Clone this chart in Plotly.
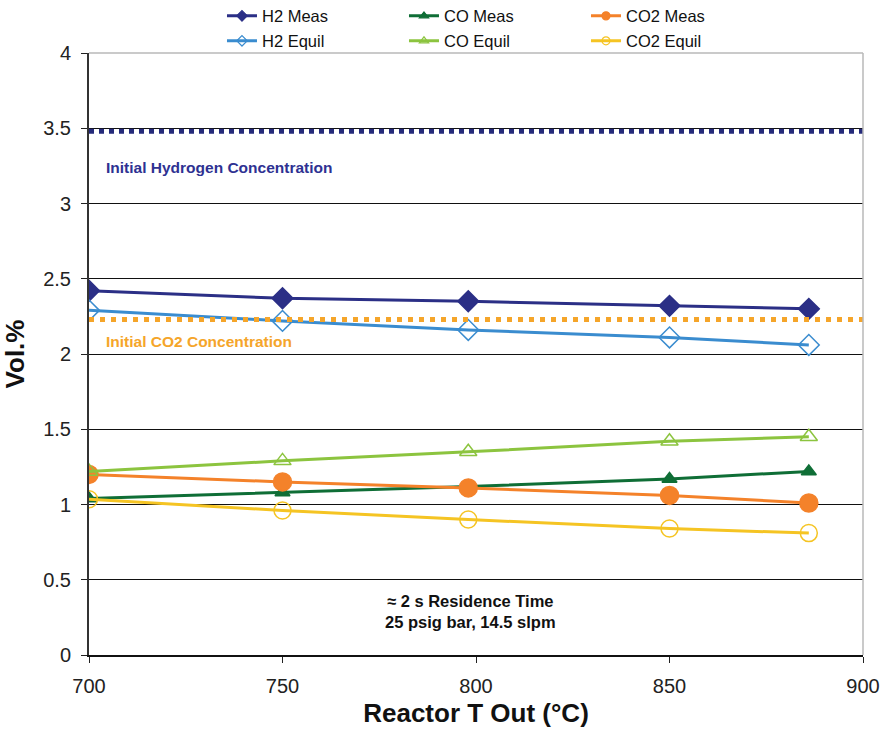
import plotly.graph_objects as go

# ---- data ----
temps = [700, 750, 798, 850, 886]
h2_meas = [2.42, 2.37, 2.35, 2.32, 2.30]
h2_equil = [2.29, 2.22, 2.16, 2.11, 2.06]
co_meas = [1.04, 1.08, 1.12, 1.17, 1.22]
co_equil = [1.22, 1.29, 1.35, 1.42, 1.45]
co2_meas = [1.20, 1.15, 1.11, 1.06, 1.01]
co2_equil = [1.035, 0.96, 0.90, 0.84, 0.81]
initial_h2 = 3.48
initial_co2 = 2.23
x_ticks = [700, 750, 800, 850, 900]
y_ticks = [0, 0.5, 1, 1.5, 2, 2.5, 3, 3.5, 4]

FONT = "Liberation Sans, Arial, sans-serif"

fig = go.Figure()

series = [
    ("H2 Meas", h2_meas, "#2b2f86", "diamond", 16, "legend"),
    ("CO Meas", co_meas, "#0f6e36", "triangle-up", 13, "legend"),
    ("CO2 Meas", co2_meas, "#f4822a", "circle", 18, "legend"),
    ("H2 Equil", h2_equil, "#3a8ccf", "diamond-open", 16, "legend2"),
    ("CO Equil", co_equil, "#8cc43f", "triangle-up-open", 15, "legend2"),
    ("CO2 Equil", co2_equil, "#f5c423", "circle-open", 17, "legend2"),
]
for name, vals, color, sym, size, lg in series:
    fig.add_trace(go.Scatter(
        x=temps, y=vals, name=name, mode="lines+markers",
        line=dict(color=color, width=3),
        marker=dict(symbol=sym, size=size, color=color,
                    line=dict(color=color, width=1.5)),
        showlegend=False,
    ))
    # legend entry with small marker like the original
    fig.add_trace(go.Scatter(
        x=[None], y=[None], name=name, mode="lines+markers",
        line=dict(color=color, width=3),
        marker=dict(symbol=sym, size=8, color=color, line=dict(color=color, width=1.2)),
        legend=lg, showlegend=True, hoverinfo="skip",
    ))

# initial concentration dotted lines
fig.add_hline(y=initial_h2, line=dict(color="#252a7a", width=5, dash="5px,5px"))
fig.add_hline(y=initial_co2, line=dict(color="#f5a52a", width=5, dash="5px,6px"))

# top & right light border
fig.add_shape(type="line", xref="paper", yref="paper", x0=0, x1=1, y0=1, y1=1,
              line=dict(color="#b8b8b8", width=1.5))
fig.add_shape(type="line", xref="paper", yref="paper", x0=1, x1=1, y0=0, y1=1,
              line=dict(color="#b8b8b8", width=1.5))

fig.add_annotation(x=0.02, xref="paper", y=3.236, yref="y", text="Initial Hydrogen Concentration",
                   showarrow=False, xanchor="left", font=dict(family=FONT, size=15.5, color="#2e3192", weight="bold"))
fig.add_annotation(x=0.02, xref="paper", y=2.08, yref="y", text="Initial CO2 Concentration",
                   showarrow=False, xanchor="left", font=dict(family=FONT, size=15.5, color="#f5a52a", weight="bold"))
fig.add_annotation(x=798.7, y=0.292, text="\u2248 2 s Residence Time<br>25 psig bar, 14.5 slpm",
                   showarrow=False, align="center", font=dict(family=FONT, size=16.5, color="#111", weight="bold"))

leg_common = dict(orientation="h", xref="container", yref="container", xanchor="left", yanchor="middle",
                  entrywidth=137, entrywidthmode="pixels",
                  font=dict(family=FONT, size=16.5, color="#111"), bgcolor="rgba(0,0,0,0)")

fig.update_layout(
    width=883, height=734,
    margin=dict(l=89, r=20, t=53, b=79, autoexpand=False),
    paper_bgcolor="white", plot_bgcolor="white",
    font=dict(family=FONT, color="#222"),
    legend=dict(x=0.2514, y=0.978, **leg_common),
    legend2=dict(x=0.2514, y=0.944, **leg_common),
    xaxis=dict(range=[700, 900], tickvals=x_ticks, ticks="outside", ticklen=6, tickcolor="#222",
               showgrid=False, showline=True, linecolor="#111", linewidth=2,
               tickfont=dict(size=20, color="#222"), ticklabelstandoff=6,
               title=dict(text="Reactor T Out (°C)", font=dict(size=26, weight="bold", color="#111"), standoff=8),
               zeroline=False, automargin=False),
    yaxis=dict(range=[0, 4], tickvals=y_ticks, ticks="outside", ticklen=6, tickcolor="#222",
               showgrid=True, gridcolor="#111", gridwidth=1.3,
               showline=True, linecolor="#333", linewidth=2,
               tickfont=dict(size=20, color="#222"), ticklabelstandoff=6,
               title=dict(text="Vol.%", font=dict(size=26, weight="bold", color="#111"), standoff=14),
               zeroline=False, automargin=False),
)

fig.write_html("out.html", config={"displayModeBar": False},
               post_script="document.body.style.margin='0';")
